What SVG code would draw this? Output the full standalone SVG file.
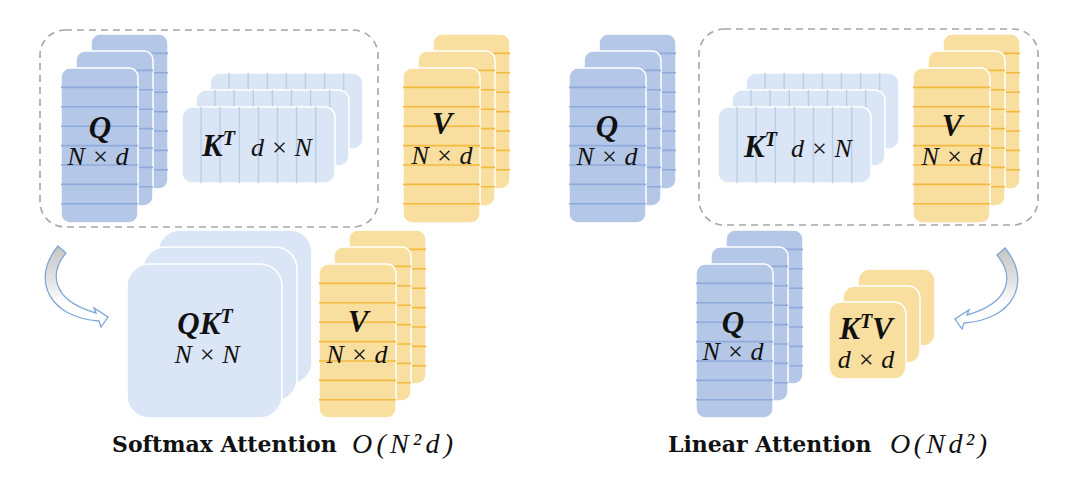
<svg xmlns="http://www.w3.org/2000/svg" width="1080" height="496" viewBox="0 0 1080 496">
<defs>
<style>
.q{fill:#b4c7e7;stroke:#fff;stroke-width:1.5}
.k{fill:#dae5f6;stroke:#fff;stroke-width:1.5}
.v{fill:#f9df9f;stroke:#fff;stroke-width:1.5}
.ql{stroke:#8faadc;stroke-width:1.6}
.kl{stroke:#b8cfea;stroke-width:1.4}
.vl{stroke:#f4ba3f;stroke-width:1.6}
.dash{fill:none;stroke:#a6a6a6;stroke-width:1.6;stroke-dasharray:7 5}
.b{font-family:"Liberation Serif",serif;font-weight:bold;font-style:italic;font-size:31px;fill:#111}
.m{font-family:"Liberation Serif",serif;font-style:italic;font-size:26px;fill:#111}
.t{font-family:"DejaVu Serif",serif;font-weight:bold;font-size:22px;fill:#111}
.tm{font-family:"Liberation Serif",serif;font-style:italic;font-size:28px;fill:#111}
.arrow{stroke:#7fa8d8;stroke-width:1.3;fill:url(#ag)}
</style>
<linearGradient id="ag" x1="0" y1="0" x2="0" y2="1">
<stop offset="0" stop-color="#c4c4c4"/>
<stop offset="0.45" stop-color="#e6e6e6"/>
<stop offset="0.7" stop-color="#ffffff"/>
</linearGradient>
<g id="hl">
<path d="M0 19.4H77M0 38.8H77M0 58.2H77M0 77.6H77M0 97H77M0 116.4H77M0 135.8H77"/>
</g>
<g id="vln">
<path d="M19.1 0V76M38.2 0V76M57.3 0V76M76.4 0V76M95.5 0V76M114.6 0V76M133.7 0V76"/>
</g>
</defs>
<rect width="1080" height="496" fill="#fff"/>

<g id="connectors">
<path class="arrow" d="M58 246 L66 253 C50 272 50 300 96 313 L94 308 L108 317 L101 327 L99 321 C50 318 30 280 58 246 Z"/>
<path class="arrow" transform="translate(1063,2) scale(-1,1)" d="M58 246 L66 253 C50 272 50 300 96 313 L94 308 L108 317 L101 327 L99 321 C50 318 30 280 58 246 Z"/>
</g>

<g id="softmax-group">
<rect class="dash" x="40" y="30" width="338" height="197" rx="25"/>
</g>

<g id="softmax-Q">
<rect class="q" x="91" y="34" width="77" height="155" rx="9"/>
<use href="#hl" class="ql" x="91" y="34"/>
<rect class="q" x="76" y="51" width="77" height="155" rx="9"/>
<use href="#hl" class="ql" x="76" y="51"/>
<rect class="q" x="61" y="68" width="77" height="155" rx="9"/>
<use href="#hl" class="ql" x="61" y="68"/>
<text class="b" x="100" y="138" text-anchor="middle">Q</text>
<text class="m" x="98" y="165" text-anchor="middle">N × d</text>
</g>

<g id="softmax-KT">
<rect class="k" x="210" y="73" width="153" height="76" rx="10"/>
<use href="#vln" class="kl" x="210" y="73"/>
<rect class="k" x="196" y="90" width="153" height="76" rx="10"/>
<use href="#vln" class="kl" x="196" y="90"/>
<rect class="k" x="182" y="107" width="153" height="76" rx="10"/>
<use href="#vln" class="kl" x="182" y="107"/>
<text class="b" x="202" y="156">K<tspan font-size="20" dy="-11">T</tspan></text>
<text class="m" x="251" y="156">d × N</text>
</g>

<g id="softmax-V">
<rect class="v" x="433" y="34" width="77" height="155" rx="9"/>
<use href="#hl" class="vl" x="433" y="34"/>
<rect class="v" x="418" y="51" width="77" height="155" rx="9"/>
<use href="#hl" class="vl" x="418" y="51"/>
<rect class="v" x="403" y="68" width="77" height="155" rx="9"/>
<use href="#hl" class="vl" x="403" y="68"/>
<text class="b" x="442" y="134" text-anchor="middle">V</text>
<text class="m" x="442" y="164" text-anchor="middle">N × d</text>
</g>

<g id="softmax-QKT">
<rect class="k" x="158" y="230" width="154" height="154" rx="22"/>
<rect class="k" x="143" y="247" width="154" height="154" rx="22"/>
<rect class="k" x="127" y="264" width="155" height="154" rx="22"/>
<text class="b" x="205" y="334" text-anchor="middle">QK<tspan font-size="20" dy="-11">T</tspan></text>
<text class="m" x="207" y="363" text-anchor="middle">N × N</text>
</g>

<g id="softmax-V2">
<rect class="v" x="349" y="230" width="77" height="154" rx="9"/>
<use href="#hl" class="vl" x="349" y="230"/>
<rect class="v" x="334" y="247" width="77" height="154" rx="9"/>
<use href="#hl" class="vl" x="334" y="247"/>
<rect class="v" x="319" y="264" width="77" height="154" rx="9"/>
<use href="#hl" class="vl" x="319" y="264"/>
<text class="b" x="358" y="332" text-anchor="middle">V</text>
<text class="m" x="357" y="363" text-anchor="middle">N × d</text>
</g>

<g id="softmax-title">
<text class="t" x="112" y="452">Softmax Attention</text>
<text class="tm" x="352" y="453" textLength="101">O(N²d)</text>
</g>

<g id="linear-Q">
<rect class="q" x="599" y="34" width="77" height="155" rx="9"/>
<use href="#hl" class="ql" x="599" y="34"/>
<rect class="q" x="584" y="51" width="77" height="155" rx="9"/>
<use href="#hl" class="ql" x="584" y="51"/>
<rect class="q" x="569" y="68" width="77" height="155" rx="9"/>
<use href="#hl" class="ql" x="569" y="68"/>
<text class="b" x="607" y="137" text-anchor="middle">Q</text>
<text class="m" x="607" y="165" text-anchor="middle">N × d</text>
</g>

<g id="linear-group">
<rect class="dash" x="699" y="29" width="339" height="196" rx="25"/>
</g>

<g id="linear-KT">
<rect class="k" x="746" y="73" width="153" height="76" rx="10"/>
<use href="#vln" class="kl" x="746" y="73"/>
<rect class="k" x="732" y="90" width="153" height="76" rx="10"/>
<use href="#vln" class="kl" x="732" y="90"/>
<rect class="k" x="718" y="107" width="153" height="76" rx="10"/>
<use href="#vln" class="kl" x="718" y="107"/>
<text class="b" x="744" y="157">K<tspan font-size="20" dy="-11">T</tspan></text>
<text class="m" x="791" y="157">d × N</text>
</g>

<g id="linear-V">
<rect class="v" x="943" y="34" width="77" height="155" rx="9"/>
<use href="#hl" class="vl" x="943" y="34"/>
<rect class="v" x="928" y="51" width="77" height="155" rx="9"/>
<use href="#hl" class="vl" x="928" y="51"/>
<rect class="v" x="913" y="68" width="77" height="155" rx="9"/>
<use href="#hl" class="vl" x="913" y="68"/>
<text class="b" x="952" y="136" text-anchor="middle">V</text>
<text class="m" x="952" y="165" text-anchor="middle">N × d</text>
</g>

<g id="linear-Q2">
<rect class="q" x="726" y="230" width="77" height="154" rx="9"/>
<use href="#hl" class="ql" x="726" y="230"/>
<rect class="q" x="711" y="247" width="77" height="154" rx="9"/>
<use href="#hl" class="ql" x="711" y="247"/>
<rect class="q" x="696" y="264" width="77" height="154" rx="9"/>
<use href="#hl" class="ql" x="696" y="264"/>
<text class="b" x="733" y="333" text-anchor="middle">Q</text>
<text class="m" x="733" y="360" text-anchor="middle">N × d</text>
</g>

<g id="linear-KTV">
<rect class="v" x="858" y="269" width="77" height="77" rx="12"/>
<rect class="v" x="843" y="286" width="77" height="77" rx="12"/>
<rect class="v" x="829" y="302" width="77" height="77" rx="12"/>
<text class="b" x="866" y="339" text-anchor="middle">K<tspan font-size="20" dy="-11">T</tspan><tspan dy="11">V</tspan></text>
<text class="m" x="866" y="368" text-anchor="middle">d × d</text>
</g>

<g id="linear-title">
<text class="t" x="668" y="452">Linear Attention</text>
<text class="tm" x="890" y="453" textLength="97">O(Nd²)</text>
</g>
</svg>
